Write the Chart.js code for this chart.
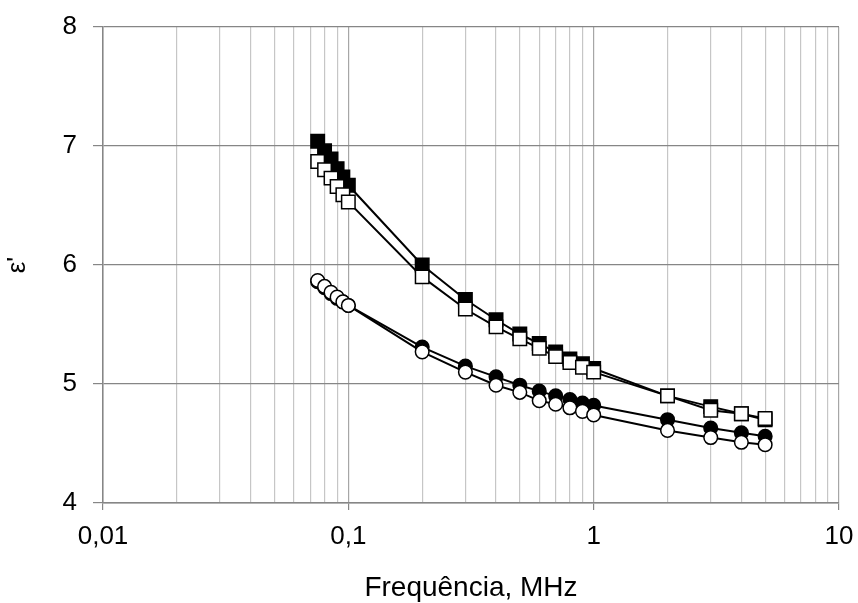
<!DOCTYPE html>
<html>
<head>
<meta charset="utf-8">
<script src="https://cdn.jsdelivr.net/npm/chart.js@4"></script>
<style>
  html, body { margin: 0; padding: 0; background: #fff; }
  #wrap { width: 858px; height: 603px; }
</style>
</head>
<body>
<div id="wrap"><canvas id="chart" width="858" height="603"></canvas></div>
<script>
// Data (frequency in MHz, permittivity)
const freqs = [0.075, 0.08, 0.085, 0.09, 0.095, 0.1, 0.2, 0.3, 0.4, 0.5, 0.6, 0.7, 0.8, 0.9, 1, 2, 3, 4, 5];
const filledSquares = [7.04, 6.96, 6.89, 6.81, 6.74, 6.67, 6.00, 5.71, 5.54, 5.42, 5.34, 5.27, 5.21, 5.17, 5.13, 4.90, 4.81, 4.75, 4.70];
const openSquares = [6.87, 6.80, 6.73, 6.66, 6.59, 6.53, 5.90, 5.63, 5.48, 5.38, 5.30, 5.23, 5.18, 5.14, 5.10, 4.90, 4.78, 4.75, 4.71];
const filledCircles = [5.86, 5.81, 5.76, 5.72, 5.69, 5.66, 5.31, 5.15, 5.06, 4.99, 4.94, 4.90, 4.87, 4.84, 4.82, 4.70, 4.63, 4.59, 4.56];
const openCircles = [5.87, 5.82, 5.77, 5.73, 5.69, 5.66, 5.27, 5.10, 4.99, 4.93, 4.86, 4.83, 4.80, 4.77, 4.74, 4.61, 4.55, 4.51, 4.49];

// Axis ticks
const decades = [0.01, 0.1, 1];
const decadeLabels = { '0.01': '0,01', '0.1': '0,1', '1': '1', '10': '10' };
const yTicks = [4, 5, 6, 7, 8];

// every 1..9 step of each decade, plus the end
const xGridTicks = [];
decades.forEach(d => {
  for (let m = 1; m <= 9; m++) xGridTicks.push(+(d * m).toPrecision(3));
});
xGridTicks.push(10);

const isDecade = (v) => Math.abs(Math.log10(v) - Math.round(Math.log10(v))) < 1e-6;

const font = { family: '"Liberation Sans", Arial, sans-serif', size: 26 };

function series(values, opts) {
  return Object.assign({
    data: freqs.map((f, i) => ({ x: f, y: values[i] })),
    borderColor: '#000',
    borderWidth: 2,
    pointBorderColor: '#000',
    pointBorderWidth: 1.5,
    pointHoverRadius: 0,
    tension: 0
  }, opts);
}

new Chart(document.getElementById('chart'), {
  type: 'line',
  data: {
    datasets: [
      series(filledSquares, { pointStyle: 'rect', pointRadius: 9.5, pointBackgroundColor: '#000', order: 2 }),
      series(openSquares, { pointStyle: 'rect', pointRadius: 9.5, pointBackgroundColor: '#fff', order: 1 }),
      series(filledCircles, { pointStyle: 'circle', pointRadius: 6.8, pointBackgroundColor: '#000', order: 2 }),
      series(openCircles, { pointStyle: 'circle', pointRadius: 6.8, pointBackgroundColor: '#fff', order: 1 })
    ]
  },
  options: {
    responsive: false,
    animation: false,
    layout: { padding: { top: 27, right: 19, left: 0, bottom: 0 } },
    plugins: {
      legend: { display: false },
      tooltip: { enabled: false }
    },
    scales: {
      x: {
        type: 'logarithmic',
        min: 0.01,
        max: 10,
        afterBuildTicks: (scale) => {
          scale.ticks = xGridTicks.map(v => ({ value: v, major: isDecade(v) }));
        },
        afterFit: (scale) => {
          // fixed box, labels may hang over the edges
          scale.height = 100;
          scale.paddingLeft = 0;
          scale.paddingRight = 0;
        },
        ticks: {
          autoSkip: false,
          maxRotation: 0,
          color: '#000',
          font: font,
          padding: 11,
          callback: (v) => isDecade(v) ? decadeLabels[String(+v.toPrecision(3))] : ''
        },
        grid: {
          color: (ctx) => isDecade(ctx.tick.value) ? '#a6a6a6' : '#c6c6c6',
          tickColor: (ctx) => isDecade(ctx.tick.value) ? '#868686' : 'rgba(0,0,0,0)',
          tickLength: 7,
          lineWidth: 1.2
        },
        border: { color: '#868686', width: 1.5 },
        title: {
          display: true,
          text: 'Frequência, MHz',
          color: '#000',
          font: Object.assign({}, font, { size: 28, lineHeight: 1.05 }),
          padding: { top: 0, bottom: 0 }
        }
      },
      y: {
        min: 4,
        max: 8,
        afterBuildTicks: (scale) => {
          scale.ticks = yTicks.map(v => ({ value: v }));
        },
        afterFit: (scale) => {
          scale.width = 103;
          scale.paddingTop = 0;
          scale.paddingBottom = 0;
        },
        ticks: {
          color: '#000',
          font: font,
          padding: 16
        },
        grid: {
          color: '#868686',
          tickLength: 10,
          lineWidth: 1.2
        },
        border: { color: '#868686', width: 1.5 },
        title: {
          display: true,
          text: "ε'",
          color: '#000',
          font: font,
          padding: { top: 2, bottom: 2 }
        }
      }
    }
  }
});
</script>
</body>
</html>
